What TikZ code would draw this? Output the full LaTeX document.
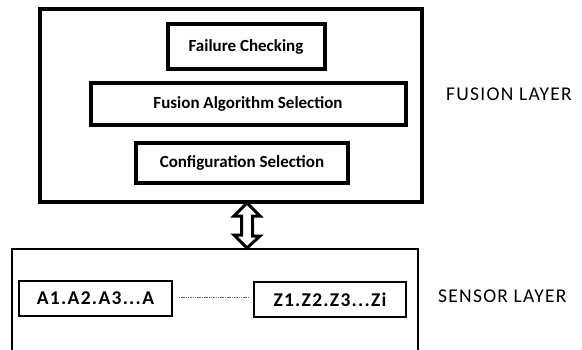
\documentclass[tikz,border=0pt]{standalone}
\usepackage{fontspec}
\setmainfont{Carlito}
\usetikzlibrary{calc}
\begin{document}
\begin{tikzpicture}[x=1pt,y=-1pt,
  thickbox/.style={draw,line width=4pt,inner sep=0pt,font=\fontsize{17}{20}\selectfont\bfseries},
  thinbox/.style={draw,line width=1.4pt,inner sep=0pt,font=\fontsize{19.5}{22}\selectfont\bfseries\addfontfeature{LetterSpace=6.5}},
  layerlabel/.style={inner sep=0pt,anchor=west,font=\fontsize{19.5}{22}\selectfont\addfontfeature{LetterSpace=6.5}},
  link/.style={draw=black!60,line width=0.8pt,dash pattern=on 1.5pt off 0.8pt},
  blockarrow/.style={draw,line width=3pt,fill=white,line join=miter}]
\useasboundingbox (0,0) rectangle (582,349);
% fusion layer
\node[thickbox,minimum width=382pt,minimum height=193pt] (fusion) at (231,105.5) {};
\node[thickbox,minimum width=157pt,minimum height=44.5pt] (fc) at (246,46.5) {Failure Checking};
\node[thickbox,minimum width=315pt,minimum height=42pt] (fas) at (248,104) {Fusion Algorithm Selection};
\node[thickbox,minimum width=212pt,minimum height=40pt] (cs) at (242,163) {Configuration Selection};
\node[layerlabel] (fl) at (446,94.5) {FUSION LAYER};
% sensor layer
\coordinate (stl) at (12,249);
\coordinate (str) at (418,249);
\draw[line width=1.2pt] (12,352) -- (stl) -- (str) -- (418,352);
\node[thinbox,minimum width=153pt,minimum height=35pt] (a) at (95.5,298.5) {A1.A2.A3...A};
\node[thinbox,minimum width=152pt,minimum height=35pt] (z) at (330,299.5) {Z1.Z2.Z3...Zi};
\draw[link,shorten <=6pt,shorten >=5pt] (a.east |- 0,297) -- (z.west |- 0,297);
\node[layerlabel] (sl) at (438,296.5) {SENSOR LAYER};
% double block arrow between layers
\coordinate (ax) at (247,0);
\coordinate (top) at (ax |- fusion.south);
\coordinate (bot) at (ax |- stl);
\draw[blockarrow] ($(top)+(0,-1)$) -- ++(13,13) -- ++(-7.5,0) -- ($(bot)+(5.5,-13)$) -- ++(7.5,0) -- ($(bot)+(0,-1)$) -- ++(-13,-13) -- ++(7.5,0) -- ($(top)+(-5.5,12)$) -- ++(-7.5,0) -- cycle;
\end{tikzpicture}
\end{document}
